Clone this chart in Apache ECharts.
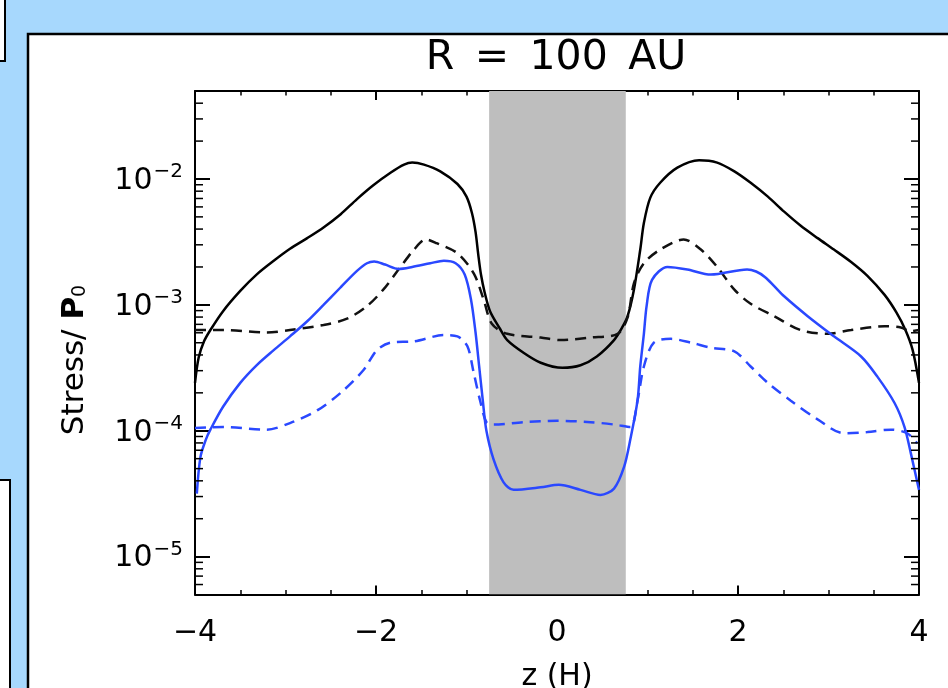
<!DOCTYPE html>
<html>
<head>
<meta charset="utf-8">
<script src="https://cdn.jsdelivr.net/npm/echarts@6/dist/echarts.min.js"></script>
<style>
html,body{margin:0;padding:0;background:#A7D8FD;}
#chart{width:948px;height:688px;}
</style>
</head>
<body>
<div id="chart"></div>
<script>
// ---- data ----
const titleText = 'R\u2002=\u2002100\u2002AU';
const xTicks = [-4, -2, 0, 2, 4];
const yTickExponents = [-5, -4, -3, -2];
const band = [-0.75, 0.76];   // shaded region in z (H)

const blackSolidZ = [-4.00,-3.96,-3.90,-3.83,-3.69,-3.50,-3.32,-3.13,-2.95,-2.76,-2.58,-2.39,-2.21,-2.03,-1.84,-1.69,-1.60,-1.47,-1.29,-1.10,-1.00,-0.94,-0.90,-0.87,-0.84,-0.80,-0.74,-0.63,-0.55,-0.37,-0.18,0.06,0.26,0.44,0.63,0.72,0.78,0.85,0.92,0.96,1.03,1.14,1.33,1.57,1.77,1.96,2.14,2.33,2.51,2.69,2.88,3.06,3.25,3.43,3.62,3.75,3.85,3.93,4.00];
const blackSolid = [2.40e-4,3.80e-4,5.13e-4,6.31e-4,8.91e-4,1.29e-3,1.74e-3,2.24e-3,2.79e-3,3.39e-3,4.12e-3,5.25e-3,6.92e-3,8.91e-3,1.12e-2,1.30e-2,1.35e-2,1.30e-2,1.15e-2,9.12e-3,7.24e-3,5.37e-3,3.80e-3,2.51e-3,1.74e-3,1.26e-3,8.91e-4,6.46e-4,5.25e-4,4.17e-4,3.47e-4,3.16e-4,3.31e-4,3.89e-4,5.25e-4,6.61e-4,8.13e-4,1.32e-3,2.75e-3,4.47e-3,7.08e-3,9.33e-3,1.23e-2,1.41e-2,1.35e-2,1.15e-2,9.33e-3,7.24e-3,5.50e-3,4.27e-3,3.39e-3,2.75e-3,2.19e-3,1.70e-3,1.20e-3,8.71e-4,6.31e-4,4.37e-4,2.40e-4];

const blackDashZ = [-4.00,-3.69,-3.21,-2.95,-2.58,-2.32,-2.10,-1.92,-1.73,-1.58,-1.45,-1.33,-1.10,-0.92,-0.81,-0.72,-0.55,-0.18,0.04,0.37,0.67,0.78,0.85,0.96,1.14,1.40,1.59,1.77,1.96,2.14,2.40,2.69,2.99,3.25,3.62,3.80,3.91,4.00];
const blackDash = [6.31e-4,6.31e-4,6.03e-4,6.31e-4,6.92e-4,7.76e-4,9.77e-4,1.32e-3,2.00e-3,2.75e-3,3.31e-3,3.09e-3,2.57e-3,1.78e-3,1.10e-3,7.08e-4,5.89e-4,5.50e-4,5.25e-4,5.50e-4,5.89e-4,7.94e-4,1.48e-3,2.14e-3,2.75e-3,3.31e-3,2.75e-3,2.00e-3,1.32e-3,1.02e-3,8.13e-4,6.31e-4,5.89e-4,6.31e-4,6.76e-4,6.61e-4,6.17e-4,6.31e-4];

const blueSolidZ = [-3.98,-3.94,-3.88,-3.83,-3.69,-3.50,-3.32,-3.13,-2.95,-2.76,-2.58,-2.39,-2.21,-2.10,-2.02,-1.90,-1.75,-1.60,-1.40,-1.25,-1.12,-1.02,-0.95,-0.90,-0.86,-0.82,-0.78,-0.70,-0.59,-0.48,-0.18,0.02,0.26,0.48,0.63,0.74,0.81,0.89,0.92,0.96,0.99,1.05,1.22,1.44,1.70,2.10,2.20,2.30,2.40,2.51,2.77,3.06,3.36,3.54,3.73,3.84,3.91,4.00];
const blueSolid = [3.16e-5,6.17e-5,8.51e-5,1.02e-4,1.55e-4,2.40e-4,3.31e-4,4.37e-4,5.62e-4,7.41e-4,1.00e-3,1.38e-3,1.86e-3,2.14e-3,2.21e-3,2.09e-3,1.93e-3,2.00e-3,2.14e-3,2.24e-3,2.14e-3,1.74e-3,1.10e-3,6.03e-4,3.24e-4,1.74e-4,1.00e-4,5.89e-5,3.89e-5,3.39e-5,3.55e-5,3.72e-5,3.39e-5,3.09e-5,3.47e-5,5.13e-5,8.51e-5,1.74e-4,3.24e-4,5.89e-4,9.77e-4,1.58e-3,2.00e-3,1.91e-3,1.74e-3,1.91e-3,1.84e-3,1.66e-3,1.41e-3,1.17e-3,8.13e-4,5.62e-4,3.89e-4,2.69e-4,1.66e-4,1.07e-4,6.61e-5,3.39e-5];

const blueDashZ = [-4.00,-3.69,-3.21,-2.95,-2.65,-2.39,-2.14,-1.99,-1.84,-1.58,-1.25,-1.10,-0.99,-0.92,-0.85,-0.78,-0.70,-0.37,0.00,0.37,0.63,0.81,0.89,0.96,1.07,1.26,1.48,1.70,1.96,2.14,2.33,2.58,2.88,3.17,3.43,3.69,3.87,3.98];
const blueDash = [1.05e-4,1.07e-4,1.02e-4,1.15e-4,1.45e-4,2.00e-4,3.02e-4,4.37e-4,5.01e-4,5.13e-4,5.75e-4,5.62e-4,4.68e-4,2.88e-4,1.74e-4,1.17e-4,1.12e-4,1.17e-4,1.20e-4,1.17e-4,1.12e-4,1.07e-4,1.74e-4,3.24e-4,5.01e-4,5.37e-4,5.01e-4,4.57e-4,4.27e-4,3.24e-4,2.40e-4,1.74e-4,1.23e-4,9.55e-5,9.77e-5,1.02e-4,9.55e-5,7.94e-5];

const yMin = 5e-6, yMax = 5e-2;
const minorMantissas = [2,3,4,5,6,7,8,9];

// ---- build ----
const FONT = 'DejaVu Sans';
const BLUE = '#2a48ff';
function pairs(zs, vs){ return zs.map((z,i)=>[z, vs[i]]); }

const minorVals = [];
for (let e = yTickExponents[0]-1; e <= yTickExponents[yTickExponents.length-1]; e++) {
  minorMantissas.forEach(m => {
    const v = m * Math.pow(10, e);
    if (v > yMin*1.0001 && v < yMax*0.9999) minorVals.push([0, v]);
  });
}

const chart = echarts.init(document.getElementById('chart'), null, {renderer:'canvas'});

const axisLineStyle = {color:'#000', width:2};
function xAxisDef(pos, showLabel){
  return {
    type:'value', min:xTicks[0], max:xTicks[xTicks.length-1], interval:2, position:pos,
    axisLine:{show:true, onZero:false, lineStyle:axisLineStyle},
    axisTick:{show:true, inside:true, length:9, lineStyle:{color:'#000', width:2}},
    minorTick:{show:true, splitNumber:4, length:4.5, lineStyle:{color:'#000', width:1.5}},
    splitLine:{show:false}, minorSplitLine:{show:false},
    axisLabel:{show:showLabel, fontFamily:FONT, fontSize:30, color:'#000', margin:24,
      formatter: v => (v < 0 ? '\u2212' + Math.abs(v) : String(v))},
    name: showLabel ? 'z (H)' : '', nameLocation:'middle', nameGap:68,
    nameTextStyle:{fontFamily:FONT, fontSize:30, color:'#000'}
  };
}
function yAxisDef(pos, showLabel){
  return {
    type:'log', logBase:10, min:yMin, max:yMax, position:pos,
    axisLine:{show:true, onZero:false, lineStyle:axisLineStyle},
    axisTick:{show:true, inside:true, length:15, lineStyle:{color:'#000', width:2}},
    minorTick:{show:false},
    splitLine:{show:false},
    axisLabel:{show:showLabel, showMinLabel:false, showMaxLabel:false, margin:12,
      formatter: v => {
        const e = Math.round(Math.log10(v));
        return '{b|10}{e|' + (e < 0 ? '\u2212' : '') + Math.abs(e) + '}';
      },
      rich:{
        b:{fontFamily:FONT, fontSize:30, color:'#000', verticalAlign:'bottom', lineHeight:34},
        e:{fontFamily:FONT, fontSize:20, color:'#000', verticalAlign:'top', lineHeight:34, padding:[0,0,0,1]}
      }
    }
  };
}

const option = {
  animation:false,
  backgroundColor:'#A7D8FD',
  grid:{left:195, top:91, right:29, bottom:93.5, containLabel:false, outerBoundsMode:'none'},
  xAxis:[xAxisDef('bottom', true), xAxisDef('top', false)],
  yAxis:[yAxisDef('left', true), yAxisDef('right', false)],
  graphic:[
    {type:'rect', z:-100, shape:{x:28, y:34, width:1000, height:800}, style:{fill:'#fff', stroke:'#000', lineWidth:2.5}},
    {type:'rect', z:-100, shape:{x:-10, y:-10, width:15, height:71}, style:{fill:'#fff', stroke:'#000', lineWidth:2}},
    {type:'rect', z:-100, shape:{x:-10, y:480, width:20, height:300}, style:{fill:'#fff', stroke:'#000', lineWidth:2}},
    {type:'text', z:10, x:556, y:58, style:{text:titleText, fontFamily:FONT, fontSize:41, fill:'#000', align:'center', verticalAlign:'middle'}},
    {type:'text', z:10, x:72, y:360, rotation:Math.PI/2, style:{
      text:'{n|Stress/ }{p|P}{s|0}', align:'center', verticalAlign:'middle',
      rich:{
        n:{fontFamily:FONT, fontSize:31, fill:'#000', verticalAlign:'bottom', lineHeight:36},
        p:{fontFamily:FONT, fontSize:31, fontWeight:'bold', fill:'#000', verticalAlign:'bottom', lineHeight:36},
        s:{fontFamily:FONT, fontSize:19, fill:'#000', verticalAlign:'bottom', lineHeight:30}
      }}}
  ],
  series:[
    {type:'custom', name:'band', z:1, silent:true, clip:true,
      data:[[band[0], band[1]]],
      renderItem:(params, api)=>{
        const p0 = api.coord([api.value(0), yMax]);
        const p1 = api.coord([api.value(1), yMin]);
        return {type:'rect', shape:{x:p0[0], y:p0[1], width:p1[0]-p0[0], height:p1[1]-p0[1]}, style:{fill:'#bebebe'}};
      }},
    {type:'line', name:'black', z:3, data:pairs(blackSolidZ, blackSolid), showSymbol:false, symbol:'none', smooth:0.3,
      lineStyle:{color:'#000', width:2.5}},
    {type:'line', name:'blackDash', z:3, data:pairs(blackDashZ, blackDash), showSymbol:false, symbol:'none', smooth:0.3,
      lineStyle:{color:'#111', width:2.5, type:[11,7]}},
    {type:'line', name:'blue', z:3, data:pairs(blueSolidZ, blueSolid), showSymbol:false, symbol:'none', smooth:0.3,
      lineStyle:{color:BLUE, width:2.5}},
    {type:'line', name:'blueDash', z:3, data:pairs(blueDashZ, blueDash), showSymbol:false, symbol:'none', smooth:0.3,
      lineStyle:{color:BLUE, width:2.5, type:[11,7]}},
    {type:'custom', name:'minorTicks', z:5, silent:true, clip:false,
      data:minorVals,
      renderItem:(params, api)=>{
        const v = api.value(1);
        const l = api.coord([xTicks[0], v]);
        const r = api.coord([xTicks[xTicks.length-1], v]);
        return {type:'group', children:[
          {type:'line', shape:{x1:l[0], y1:l[1], x2:l[0]+8, y2:l[1]}, style:{stroke:'#000', lineWidth:1.5}},
          {type:'line', shape:{x1:r[0], y1:r[1], x2:r[0]-8, y2:r[1]}, style:{stroke:'#000', lineWidth:1.5}}
        ]};
      }}
  ]
};
chart.setOption(option);
</script>
</body>
</html>
